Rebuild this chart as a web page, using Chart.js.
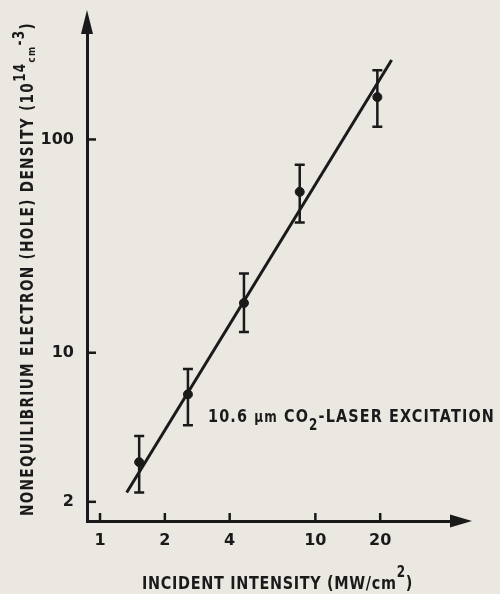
<!DOCTYPE html>
<html>
<head>
<meta charset="utf-8">
<script src="https://cdn.jsdelivr.net/npm/chart.js@4.4.1/dist/chart.umd.min.js"></script>
<style>
  html, body { margin: 0; padding: 0; background: #ebe7e1; }
</style>
</head>
<body>
<canvas id="grafico" width="500" height="594"></canvas>
<script>
// Datos (escala log-log)
var intensidad = [1.52, 2.56, 4.66, 8.46, 19.4]; // MW/cm^2
var densidad = [3.07, 6.38, 17.1, 56.8, 158]; // 10^14 cm^-3
var errorAlto = [4.07, 8.4, 23.5, 76.2, 211];
var errorBajo = [2.21, 4.57, 12.5, 40.8, 114.6];
var ajusteX = [1.33, 22.6];
var ajusteY = [2.21, 236];
var ticksX = [1, 2, 4, 10, 20];
var ticksY = [2, 10, 100];

var tinta = "#1a1a1a";
var familia = '"DejaVu Sans", sans-serif';
var estrecho = 0.8; // compresión horizontal de las letras

function fuente(tam) {
  return "bold " + tam + "px " + familia;
}

// Dibuja un texto por partes (superíndices, subíndices) ajustando el espaciado al ancho deseado
function dibujarTexto(ctx, partes, ancho) {
  var natural = 0;
  var letras = 0;
  partes.forEach(function (p) {
    ctx.font = fuente(p.tam);
    natural += ctx.measureText(p.t).width;
    letras += p.t.length;
  });
  var espacio = (ancho / estrecho - natural) / letras;
  if (espacio < 0) espacio = 0;
  ctx.scale(estrecho, 1);
  ctx.letterSpacing = espacio + "px";
  var x = 0;
  partes.forEach(function (p) {
    ctx.font = fuente(p.tam);
    ctx.fillText(p.t, x, p.dy || 0);
    x += ctx.measureText(p.t).width;
  });
  ctx.letterSpacing = "0px";
}

var datos = intensidad.map(function (v, i) {
  return { x: v, y: densidad[i] };
});
var lineaAjuste = ajusteX.map(function (v, i) {
  return { x: v, y: ajusteY[i] };
});

// Plugin: barras de error, marcas interiores, flechas y rótulos
var decoracion = {
  id: "decoracion",
  beforeDatasetsDraw: function (chart) {
    var ctx = chart.ctx;
    var sx = chart.scales.x;
    var sy = chart.scales.y;
    ctx.save();
    ctx.strokeStyle = tinta;
    ctx.lineWidth = 2.5;
    for (var i = 0; i < intensidad.length; i++) {
      var px = sx.getPixelForValue(intensidad[i]);
      var y1 = sy.getPixelForValue(errorAlto[i]);
      var y2 = sy.getPixelForValue(errorBajo[i]);
      ctx.beginPath();
      ctx.moveTo(px, y1);
      ctx.lineTo(px, y2);
      ctx.moveTo(px - 5, y1);
      ctx.lineTo(px + 5, y1);
      ctx.moveTo(px - 5, y2);
      ctx.lineTo(px + 5, y2);
      ctx.stroke();
    }
    ctx.restore();
  },
  afterDraw: function (chart) {
    var ctx = chart.ctx;
    var area = chart.chartArea;
    var sx = chart.scales.x;
    var sy = chart.scales.y;
    ctx.save();
    ctx.strokeStyle = tinta;
    ctx.fillStyle = tinta;
    ctx.lineWidth = 2.5;

    // marcas hacia adentro
    ticksX.forEach(function (v) {
      var px = sx.getPixelForValue(v);
      ctx.beginPath();
      ctx.moveTo(px, area.bottom);
      ctx.lineTo(px, area.bottom - 8);
      ctx.stroke();
    });
    ticksY.forEach(function (v) {
      var py = sy.getPixelForValue(v);
      ctx.beginPath();
      ctx.moveTo(area.left, py);
      ctx.lineTo(area.left + 9, py);
      ctx.stroke();
    });

    // flechas de los ejes
    ctx.beginPath();
    ctx.moveTo(area.right - 2, area.bottom - 6.5);
    ctx.lineTo(area.right + 20, area.bottom);
    ctx.lineTo(area.right - 2, area.bottom + 6.5);
    ctx.closePath();
    ctx.fill();
    ctx.beginPath();
    ctx.moveTo(area.left - 6, area.top + 2);
    ctx.lineTo(area.left, area.top - 22);
    ctx.lineTo(area.left + 6, area.top + 2);
    ctx.closePath();
    ctx.fill();

    ctx.textBaseline = "alphabetic";
    ctx.textAlign = "left";

    // título del eje Y (vertical)
    ctx.save();
    ctx.translate(33, 516);
    ctx.rotate(-Math.PI / 2);
    dibujarTexto(ctx, [
      { t: "NONEQUILIBRIUM ELECTRON (HOLE) DENSITY (10", tam: 17 },
      { t: "14", tam: 15, dy: -8 },
      { t: "cm", tam: 11, dy: 2 },
      { t: "-3", tam: 15, dy: -9 },
      { t: ")", tam: 17 }
    ], 494);
    ctx.restore();

    // título del eje X
    ctx.save();
    ctx.translate(142, 589);
    dibujarTexto(ctx, [
      { t: "INCIDENT INTENSITY (MW/cm", tam: 18 },
      { t: "2", tam: 15, dy: -12 },
      { t: ")", tam: 18 }
    ], 271);
    ctx.restore();

    // rótulo dentro del gráfico
    ctx.save();
    ctx.translate(208, 422);
    dibujarTexto(ctx, [
      { t: "10.6 ", tam: 18 },
      { t: "μm", tam: 15 },
      { t: " CO", tam: 18 },
      { t: "2", tam: 15, dy: 8 },
      { t: "-LASER EXCITATION", tam: 18 }
    ], 287);
    ctx.restore();

    ctx.restore();
  }
};

var ctx = document.getElementById("grafico").getContext("2d");

var grafico = new Chart(ctx, {
  type: "scatter",
  data: {
    datasets: [
      {
        label: "datos",
        data: datos,
        pointRadius: 4.5,
        pointBackgroundColor: tinta,
        pointBorderColor: tinta,
        showLine: false,
        order: 1
      },
      {
        label: "ajuste",
        data: lineaAjuste,
        showLine: true,
        borderColor: tinta,
        borderWidth: 3,
        pointRadius: 0,
        order: 2
      }
    ]
  },
  options: {
    responsive: false,
    animation: false,
    layout: {
      padding: { left: 0, top: 32, right: 48, bottom: 0 }
    },
    plugins: {
      legend: { display: false },
      tooltip: { enabled: false }
    },
    scales: {
      x: {
        type: "logarithmic",
        min: 0.87,
        max: 43.1,
        afterBuildTicks: function (s) {
          s.ticks = ticksX.map(function (v) { return { value: v }; });
        },
        afterFit: function (s) { s.height = 73; },
        ticks: {
          autoSkip: false,
          maxRotation: 0,
          padding: 10,
          color: tinta,
          font: { family: familia, size: 16, weight: "bold" },
          callback: function (v) { return String(v); }
        },
        grid: { display: false, drawTicks: false },
        border: { display: true, width: 3, color: tinta }
      },
      y: {
        type: "logarithmic",
        min: 1.626,
        max: 319,
        afterBuildTicks: function (s) {
          s.ticks = ticksY.map(function (v) { return { value: v }; });
        },
        afterFit: function (s) { s.width = 87; },
        ticks: {
          autoSkip: false,
          padding: 13,
          color: tinta,
          font: { family: familia, size: 16, weight: "bold" },
          callback: function (v) { return String(v); }
        },
        grid: { display: false, drawTicks: false },
        border: { display: true, width: 3, color: tinta }
      }
    }
  },
  plugins: [decoracion]
});
</script>
</body>
</html>
